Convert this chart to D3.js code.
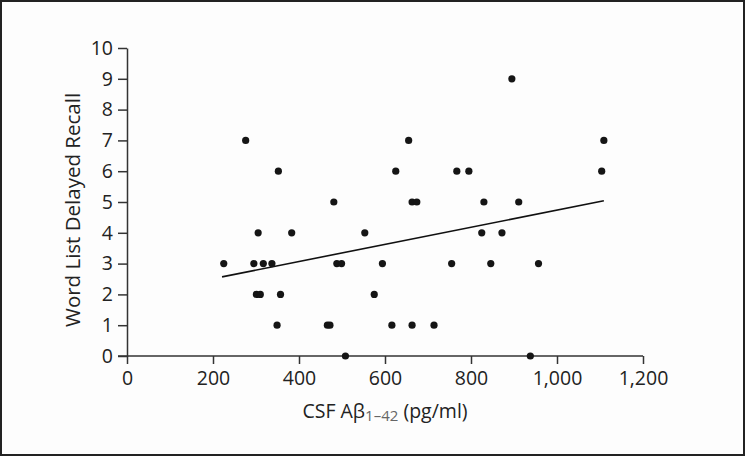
<!DOCTYPE html>
<html>
<head>
<meta charset="utf-8">
<script src="https://cdn.jsdelivr.net/npm/d3@7"></script>
<style>
  html, body { margin: 0; padding: 0; background: #fff; }
  svg { display: block; }
  text { font-family: "Open Sans", "Noto Sans", sans-serif; fill: #222; }
</style>
</head>
<body>
<svg id="chart" width="745" height="456"></svg>
<script>
// CSF Aβ1–42 (pg/ml) values
const csfAbeta = [225, 276, 295, 301, 305, 310, 317, 337, 349, 352, 357, 383, 466, 472, 481, 488, 499, 508, 553, 575, 594, 616, 625, 655, 663, 663, 674, 714, 755, 767, 795, 825, 830, 846, 872, 895, 911, 938, 957, 1104, 1109];
// Word list delayed recall scores
const recall = [3, 7, 3, 2, 4, 2, 3, 3, 1, 6, 2, 4, 1, 1, 5, 3, 3, 0, 4, 2, 3, 1, 6, 7, 1, 5, 5, 1, 3, 6, 6, 4, 5, 3, 4, 9, 5, 0, 3, 6, 7];
// Regression line endpoints
const trendX = [221, 1109];
const trendY = [2.57, 5.04];
// Tick values
const xTicks = [0, 200, 400, 600, 800, 1000, 1200];
const yTicks = [0, 1, 2, 3, 4, 5, 6, 7, 8, 9, 10];

const W = 745, H = 456;
const margin = { left: 127, right: 102, top: 48, bottom: 100 };
const svg = d3.select("#chart");

// frame
svg.append("rect").attr("x", 1).attr("y", 1).attr("width", W - 2).attr("height", H - 2)
  .attr("fill", "#fdfdfd").attr("stroke", "#222").attr("stroke-width", 2);

const x = d3.scaleLinear().domain([0, 1200]).range([margin.left, W - margin.right]);
const y = d3.scaleLinear().domain([0, 10]).range([H - margin.bottom, margin.top]);

const fmt = d3.format(",");

const xAxis = svg.append("g").attr("transform", `translate(0,${y(0)})`)
  .call(d3.axisBottom(x).tickValues(xTicks).tickFormat(fmt).tickSize(8).tickPadding(7).tickSizeOuter(0));
const yAxis = svg.append("g").attr("transform", `translate(${x(0)},0)`)
  .call(d3.axisLeft(y).tickValues(yTicks).tickSize(9).tickPadding(5).tickSizeOuter(0));

[xAxis, yAxis].forEach(g => {
  g.selectAll("path.domain").attr("stroke", "#333").attr("stroke-width", 1.5);
  g.selectAll(".tick line").attr("stroke", "#333").attr("stroke-width", 1.5);
  g.selectAll(".tick text").style("font-family", '"Open Sans", "Noto Sans", sans-serif')
    .style("font-size", "19.5px").attr("fill", "#222");
});
// extend x axis line left to meet the y tick marks
xAxis.select("path.domain").attr("d", `M${x(0) - 9},0H${x(1200)}`);

// regression line
svg.append("line")
  .attr("x1", x(trendX[0])).attr("y1", y(trendY[0]))
  .attr("x2", x(trendX[1])).attr("y2", y(trendY[1]))
  .attr("stroke", "#111").attr("stroke-width", 1.6);

// points
svg.append("g").selectAll("circle").data(csfAbeta.map((v, i) => [v, recall[i]]))
  .join("circle")
  .attr("cx", d => x(d[0])).attr("cy", d => y(d[1])).attr("r", 3.6)
  .attr("fill", "#151515");

// x label
const xl = svg.append("text").attr("x", 385).attr("y", 418).attr("text-anchor", "middle")
  .style("font-size", "19.5px");
xl.append("tspan").text("CSF Aβ");
xl.append("tspan").text("1–42").style("font-size", "15px").attr("dy", 3).attr("fill", "#666");
xl.append("tspan").text(" (pg/ml)").attr("dy", -3);

// y label
svg.append("text").attr("transform", `translate(80,210) rotate(-90)`)
  .attr("text-anchor", "middle").style("font-size", "20.5px").text("Word List Delayed Recall");
</script>
</body>
</html>
